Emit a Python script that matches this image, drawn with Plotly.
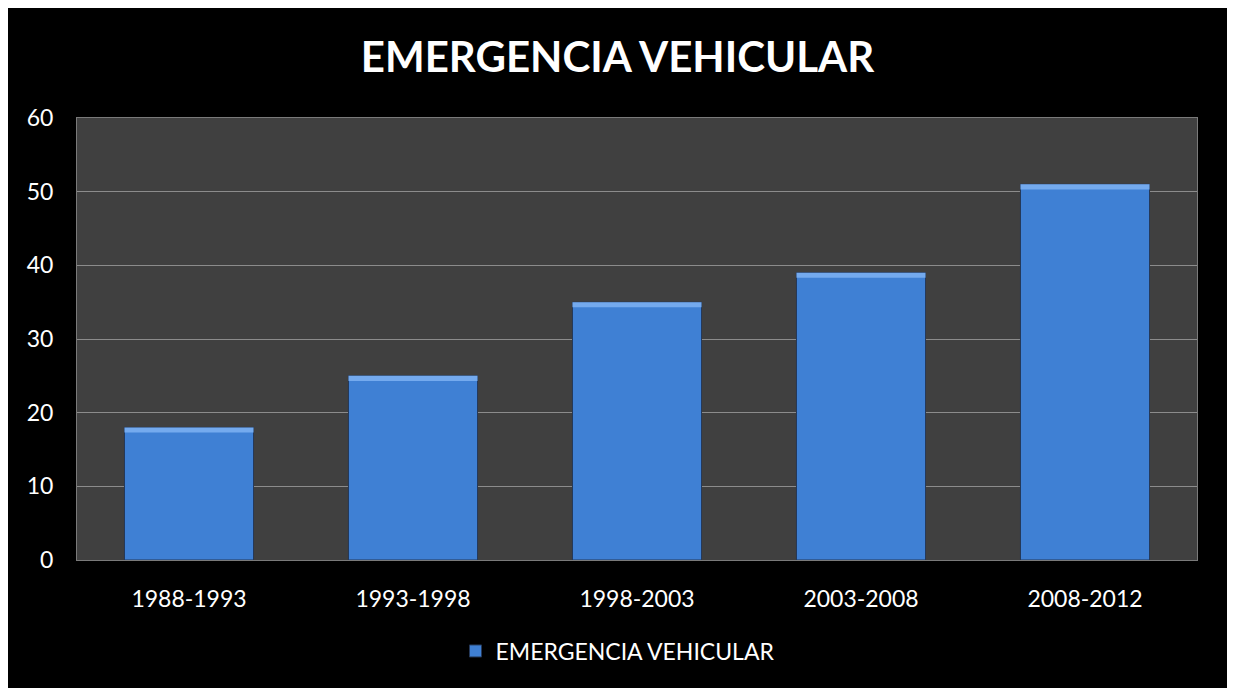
import plotly.graph_objects as go

categories = ["1988-1993", "1993-1998", "1998-2003", "2003-2008", "2008-2012"]
values = [18, 25, 35, 39, 51]
series_name = "EMERGENCIA VEHICULAR"
title_text = "EMERGENCIA VEHICULAR"
y_ticks = [0, 10, 20, 30, 40, 50, 60]

# figure is placed by the page at (8, 8)
W, H = 1219, 680
L, R, T, B = 69, 30, 110, 128
ph = H - T - B

def fig_y(page_py):
    # page pixel y -> paper coordinate
    return (H - B - (page_py - 8)) / ph

highlight = 0.7
fig = go.Figure()
fig.add_trace(go.Bar(
    x=categories, y=values, name=series_name,
    marker=dict(color="#3f80d4", line=dict(color="#25395a", width=1)),
    showlegend=True,
))
fig.add_trace(go.Bar(
    x=categories, y=[highlight] * len(values), base=[v - highlight for v in values],
    marker=dict(color="#74aaee", line=dict(width=0)),
    showlegend=False, hoverinfo="skip",
))

fig.update_layout(
    width=W, height=H,
    margin=dict(l=L, r=R, t=T, b=B, autoexpand=False),
    paper_bgcolor="black",
    plot_bgcolor="#404040",
    font=dict(family="Lato, Open Sans, sans-serif", color="white", size=23),
    title=dict(text="<b>" + title_text + "</b>", x=0.5, xref="container", xanchor="center",
               y=1 - (57 - 8) / H, yref="container", yanchor="middle",
               font=dict(size=42, color="white", family="Lato, Open Sans, sans-serif")),
    barmode="overlay",
    bargap=0.424,
    showlegend=True,
    legend=dict(orientation="h", x=0.5, xref="container", xanchor="center",
                y=fig_y(651), yanchor="middle",
                font=dict(size=23, color="white"), bgcolor="rgba(0,0,0,0)"),
)
fig.update_yaxes(range=[0, 60], tickvals=y_ticks, showgrid=True, gridcolor="#8c8c8c", gridwidth=1,
                 zeroline=False, ticks="", ticklabelstandoff=18, tickfont=dict(size=23, color="white"),
                 showline=True, mirror=True, linecolor="#7a7a7a", linewidth=1)
fig.update_xaxes(showgrid=False, ticks="", tickfont=dict(size=23, color="white"), ticklabelstandoff=18,
                 showline=True, mirror=True, linecolor="#7a7a7a", linewidth=1)

fig.write_html("out.html")
